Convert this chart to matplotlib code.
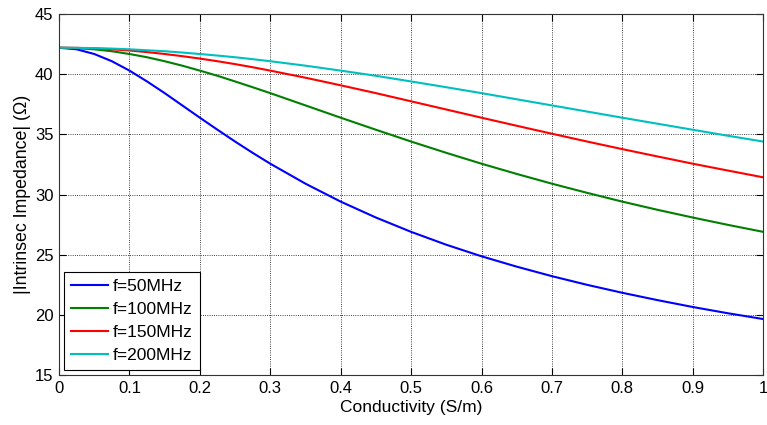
import matplotlib
matplotlib.use("Agg")
import matplotlib.pyplot as plt

plt.rcParams['font.family'] = ['Liberation Sans', 'DejaVu Sans']

# conductivity axis (S/m), finer steps where the curves bend most
sigma = [0.0, 0.025, 0.05, 0.075, 0.1, 0.125, 0.15, 0.175, 0.2, 0.225, 0.25, 0.275,
         0.3, 0.35, 0.4, 0.45, 0.5, 0.55, 0.6, 0.65, 0.7, 0.75, 0.8, 0.85, 0.9, 0.95, 1.0]

# |eta| in ohms for each frequency
eta_50 = [42.2, 42.07, 41.68, 41.08, 40.30, 39.40, 38.43, 37.41, 36.39, 35.39, 34.41, 33.47,
          32.57, 30.91, 29.42, 28.10, 26.91, 25.84, 24.88, 24.02, 23.23, 22.51, 21.85,
          21.24, 20.67, 20.15, 19.67]
eta_100 = [42.2, 42.17, 42.07, 41.91, 41.68, 41.41, 41.08, 40.71, 40.30, 39.87, 39.40, 38.92,
           38.43, 37.41, 36.39, 35.39, 34.41, 33.47, 32.57, 31.72, 30.91, 30.15, 29.42,
           28.74, 28.10, 27.49, 26.91]
eta_150 = [42.2, 42.19, 42.14, 42.07, 41.97, 41.84, 41.68, 41.50, 41.30, 41.08, 40.84, 40.58,
           40.30, 39.71, 39.08, 38.43, 37.75, 37.07, 36.39, 35.72, 35.06, 34.41, 33.78,
           33.17, 32.57, 32.00, 31.44]
eta_200 = [42.2, 42.19, 42.17, 42.13, 42.07, 41.99, 41.91, 41.80, 41.68, 41.55, 41.41, 41.25,
           41.08, 40.71, 40.30, 39.87, 39.40, 38.92, 38.43, 37.92, 37.41, 36.90, 36.39,
           35.89, 35.39, 34.89, 34.41]

labels = ['f=50MHz', 'f=100MHz', 'f=150MHz', 'f=200MHz']
colors = ['#0000ff', '#007f00', '#ff0000', '#00bfbf']

fig = plt.figure(figsize=(7.67, 4.25), dpi=100)
ax = fig.add_axes([0.077, 0.117, 0.918, 0.850])

for y, lab, c in zip([eta_50, eta_100, eta_150, eta_200], labels, colors):
    ax.plot(sigma, y, color=c, lw=1.5, label=lab)

ax.set_xlim(0, 1)
ax.set_ylim(15, 45)
ax.set_xticks([0, 0.1, 0.2, 0.3, 0.4, 0.5, 0.6, 0.7, 0.8, 0.9, 1])
ax.set_xticklabels(['0', '0.1', '0.2', '0.3', '0.4', '0.5', '0.6', '0.7', '0.8', '0.9', '1'])
ax.set_yticks([15, 20, 25, 30, 35, 40, 45])
ax.grid(True, color='k', linestyle=':', linewidth=0.6)
ax.tick_params(direction='in', top=True, right=True, labelsize=12, length=5, pad=4)
for s in ax.spines.values():
    s.set_linewidth(0.8)
    s.set_color('#333333')

ax.set_xlabel('Conductivity (S/m)', fontsize=12.5, labelpad=3)
ax.set_ylabel('|Intrinsec Impedance| (Ω)', fontsize=12.8, labelpad=3)

leg = ax.legend(loc='lower left', fontsize=12.5, fancybox=False, framealpha=1,
                edgecolor='k', handlelength=2.1, borderaxespad=0.3,
                labelspacing=0.45, handletextpad=0.3, borderpad=0.4)
leg.get_frame().set_linewidth(0.8)

fig.savefig('out.png', dpi=100)
